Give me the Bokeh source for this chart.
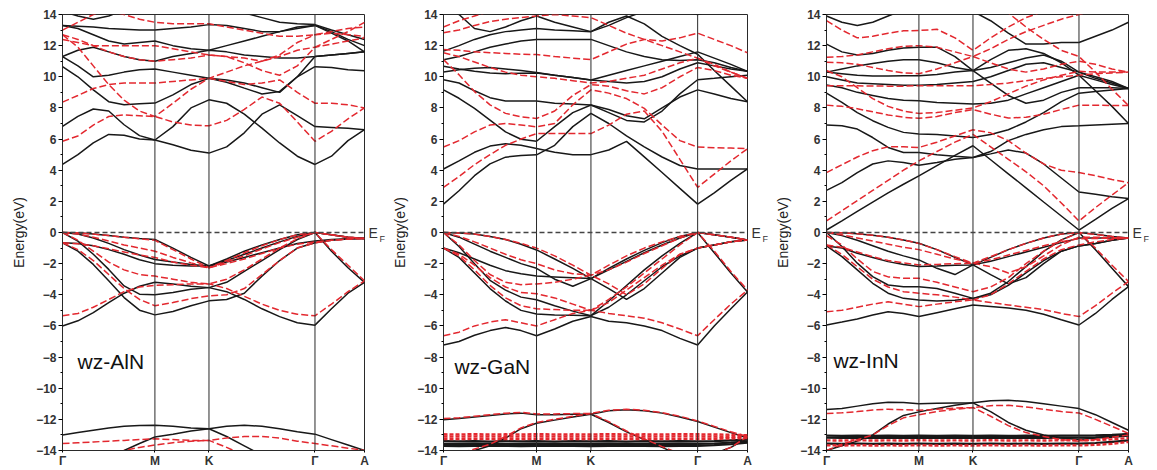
from bokeh.plotting import figure
from bokeh.layouts import row
from bokeh.models import Range1d, FixedTicker, Span, Label, LinearAxis
from bokeh.embed import file_html
from bokeh.resources import INLINE

# ---------------- k-path ----------------
K_LABELS = ["Γ", "M", "K", "Γ", "A"]
K_POS = [0, 306, 485, 836, 1000]
SUBDIV = [6, 3, 6, 3]   # samples per segment Γ-M, M-K, K-Γ, Γ-A

# ---------------- wz-AlN (energies in eV at the 19 path samples) ----------------
aln_cb_black = [
    [4.37, 5.0, 5.75, 6.3, 6.25, 6.0, 5.94, 5.64, 5.28, 5.1, 5.5, 6.4, 7.6, 8.2, 7.5, 6.8, 6.75, 6.7, 6.6],
    [6.82, 7.46, 7.93, 7.8, 6.92, 6.22, 5.94, 6.8, 8.0, 8.52, 8.3, 7.6, 6.7, 5.75, 4.9, 4.37, 4.9, 5.9, 6.6],
    [10.65, 10.0, 9.16, 8.4, 8.2, 8.27, 8.31, 8.84, 9.5, 9.9, 9.65, 9.27, 8.9, 9.06, 10.0, 10.65, 10.6, 10.45, 10.38],
    [11.3, 10.7, 10.0, 10.1, 10.3, 10.45, 10.5, 10.3, 10.1, 9.9, 9.8, 9.6, 9.3, 9.0, 10.0, 11.3, 11.4, 11.5, 11.6],
    [11.3, 11.7, 11.9, 11.6, 11.3, 11.1, 11.0, 11.3, 11.5, 11.7, 11.6, 11.4, 11.3, 11.2, 11.2, 11.3, 11.4, 11.5, 11.6],
    [13.3, 13.1, 12.7, 12.3, 12.1, 12.2, 12.3, 12.0, 11.8, 11.7, 12.0, 12.3, 12.6, 12.9, 13.2, 13.3, 12.9, 12.4, 12.0],
    [13.3, 13.25, 13.2, 13.1, 13.05, 13.0, 13.0, 13.1, 13.2, 13.35, 13.3, 13.1, 12.9, 12.9, 13.1, 13.3, 12.8, 12.3, 11.6],
    [14.2, 13.9, 13.7, 13.9, 14.3, 14.6, 14.8, 14.8, 14.6, 14.3, 14.2, 14.1, 13.8, 13.5, 13.4, 13.35, 13.0, 12.7, 12.4],
]
aln_cb_red = [
    [5.86, 6.2, 6.9, 7.45, 7.55, 7.5, 7.45, 7.1, 6.9, 6.85, 7.2, 7.9, 8.7, 8.3, 7.1, 5.86, 6.5, 7.3, 8.0],
    [8.37, 8.8, 9.25, 9.5, 9.6, 9.6, 9.6, 9.7, 9.8, 9.9, 9.7, 9.5, 9.6, 9.8, 9.0, 8.3, 8.3, 8.2, 8.0],
    [12.7, 11.9, 10.7, 9.5, 8.5, 7.8, 7.45, 8.3, 9.2, 9.9, 10.3, 10.7, 11.0, 11.3, 11.7, 11.9, 12.1, 12.3, 12.5],
    [12.4, 12.2, 12.0, 12.0, 12.0, 12.0, 12.0, 11.8, 11.6, 11.4, 11.3, 11.2, 11.0, 11.4, 12.2, 12.7, 12.8, 12.7, 12.6],
    [13.0, 13.5, 14.0, 14.2, 14.0, 13.7, 13.5, 13.4, 13.4, 13.4, 13.2, 13.0, 12.8, 12.6, 12.6, 12.7, 12.9, 13.1, 13.2],
    [12.7, 12.4, 12.0, 11.6, 11.3, 11.1, 11.0, 11.1, 11.2, 11.4, 11.3, 10.9, 10.4, 10.1, 10.7, 11.9, 12.4, 12.9, 13.5],
]
aln_vb_black = [
    [0, -0.02, -0.1, -0.2, -0.3, -0.38, -0.45, -1.0, -1.6, -2.15, -1.7, -1.2, -0.8, -0.45, -0.15, 0, -0.15, -0.3, -0.38],
    [0, -0.1, -0.35, -0.7, -1.1, -1.45, -1.73, -1.9, -2.05, -2.15, -1.8, -1.4, -1.0, -0.6, -0.25, 0, -0.15, -0.3, -0.38],
    [0, -0.55, -1.4, -2.37, -3.43, -3.96, -4.0, -3.86, -3.64, -3.54, -3.2, -2.5, -1.8, -1.1, -0.45, 0, -1.2, -2.26, -3.2],
    [-0.66, -0.7, -0.85, -1.1, -1.4, -1.75, -2.0, -2.1, -2.15, -2.15, -1.9, -1.6, -1.3, -1.0, -0.7, -0.55, -0.45, -0.4, -0.38],
    [-0.66, -1.2, -2.05, -3.1, -4.18, -4.99, -5.29, -5.07, -4.7, -4.39, -4.3, -3.9, -2.8, -1.8, -1.0, -0.66, -0.5, -0.42, -0.38],
    [-6.0, -5.67, -5.14, -4.5, -3.9, -3.45, -3.2, -3.3, -3.45, -3.54, -3.8, -4.3, -4.9, -5.4, -5.8, -5.95, -4.9, -3.9, -3.2],
]
aln_vb_red = [
    [0, -0.02, -0.1, -0.2, -0.3, -0.4, -0.5, -1.1, -1.7, -2.26, -1.8, -1.3, -0.85, -0.45, -0.15, 0, -0.15, -0.3, -0.38],
    [0, -0.1, -0.3, -0.55, -0.8, -1.0, -1.2, -1.6, -1.95, -2.26, -1.9, -1.5, -1.05, -0.65, -0.3, 0, -0.15, -0.3, -0.38],
    [0, -0.5, -1.2, -1.9, -2.4, -2.7, -2.8, -3.0, -3.2, -3.3, -3.0, -2.4, -1.7, -1.0, -0.4, 0, -1.1, -2.1, -3.1],
    [-0.66, -0.72, -0.85, -1.05, -1.25, -1.45, -1.6, -1.9, -2.1, -2.26, -2.0, -1.7, -1.35, -1.0, -0.75, -0.6, -0.5, -0.42, -0.38],
    [-0.66, -1.1, -1.8, -2.7, -3.6, -4.3, -4.7, -4.5, -4.25, -4.07, -4.0, -3.6, -2.7, -1.8, -1.0, -0.66, -0.5, -0.42, -0.38],
    [-5.35, -5.2, -4.8, -4.3, -3.8, -3.5, -3.4, -3.35, -3.3, -3.3, -3.6, -4.1, -4.6, -5.0, -5.25, -5.35, -4.6, -3.8, -3.1],
]
aln_core_black = [
    [-13.0, -12.85, -12.7, -12.55, -12.45, -12.4, -12.38, -12.45, -12.55, -12.6, -12.45, -12.38, -12.45, -12.6, -12.8, -12.95, -13.3, -13.65, -14.0],
    [-15.5, -15.2, -14.8, -14.4, -14.0, -13.55, -13.13, -12.95, -12.75, -12.6, -13.1, -13.7, -14.3, -14.8, -15.2, -15.5, -15.5, -15.3, -14.9],
]
aln_core_red = [
    [-13.55, -13.5, -13.45, -13.4, -13.35, -13.3, -13.25, -13.3, -13.35, -13.35, -13.2, -13.1, -13.1, -13.2, -13.4, -13.55, -13.7, -13.85, -14.0],
    [-15.5, -15.0, -14.6, -14.3, -14.0, -13.8, -13.65, -13.5, -13.4, -13.35, -13.8, -14.3, -14.8, -15.2, -15.5, -15.5, -15.5, -15.5, -15.5],
]
aln_d_black = []
aln_d_red = []

# ---------------- wz-GaN ----------------
gan_cb_black = [
    [1.82, 2.68, 3.65, 4.41, 4.84, 4.95, 4.99, 5.6, 6.8, 7.65, 7.0, 6.2, 5.5, 4.85, 4.3, 4.08, 4.08, 4.08, 4.08],
    [4.08, 4.6, 5.15, 5.55, 5.7, 5.6, 5.4, 5.15, 5.0, 5.0, 5.3, 5.85, 4.86, 3.85, 2.83, 1.82, 2.55, 3.35, 4.08],
    [9.16, 8.62, 7.97, 7.22, 6.46, 5.99, 5.86, 6.8, 7.7, 8.19, 7.9, 7.5, 7.3, 8.0, 8.7, 9.16, 8.9, 8.6, 8.4],
    [9.81, 9.6, 9.1, 8.66, 8.45, 8.45, 8.45, 8.3, 8.25, 8.19, 7.7, 7.2, 7.1, 7.8, 8.9, 9.81, 9.9, 10.0, 10.1],
    [10.3, 10.45, 10.55, 10.6, 10.5, 10.4, 10.28, 10.1, 9.95, 9.8, 9.7, 9.6, 9.7, 10.0, 10.5, 10.9, 10.7, 10.5, 10.35],
    [10.67, 10.5, 10.35, 10.25, 10.2, 10.22, 10.24, 10.1, 9.95, 9.8, 10.1, 10.4, 10.7, 11.0, 11.3, 11.6, 11.2, 10.8, 10.35],
    [11.1, 11.3, 11.6, 11.9, 12.1, 12.3, 12.4, 12.4, 12.4, 12.4, 12.0, 11.6, 11.3, 11.1, 11.05, 11.1, 10.9, 10.6, 10.35],
    [11.65, 12.0, 12.4, 12.7, 12.9, 13.0, 13.1, 13.0, 12.95, 12.9, 13.5, 13.9, 13.4, 12.6, 12.0, 11.45, 10.4, 9.4, 8.4],
    [14.5, 14.0, 13.1, 12.9, 13.2, 13.6, 13.9, 13.5, 13.2, 12.9, 13.3, 13.8, 14.2, 14.4, 14.2, 14.0, 14.3, 14.6, 15.0],
]
gan_cb_red = [
    [2.9, 3.6, 4.36, 5.0, 5.6, 6.0, 6.35, 6.35, 6.35, 6.35, 6.9, 7.6, 7.8, 6.5, 4.7, 2.9, 3.75, 4.6, 5.38],
    [5.49, 5.9, 6.46, 6.9, 7.0, 6.9, 6.79, 7.0, 8.2, 9.16, 8.95, 8.6, 7.97, 6.9, 5.9, 5.49, 5.45, 5.42, 5.38],
    [11.1, 10.13, 9.05, 8.2, 7.65, 7.43, 7.32, 7.8, 8.8, 9.5, 9.4, 9.1, 8.9, 9.3, 10.0, 10.6, 10.4, 10.1, 9.9],
    [11.54, 11.3, 10.95, 10.6, 10.3, 10.1, 10.0, 9.9, 9.75, 9.6, 9.7, 9.9, 10.1, 10.5, 10.9, 11.2, 10.8, 10.3, 9.9],
    [11.75, 11.7, 11.6, 11.55, 11.5, 11.45, 11.43, 11.3, 11.2, 11.1, 11.6, 12.1, 12.4, 12.3, 12.5, 12.8, 12.4, 12.0, 11.54],
    [12.83, 13.0, 13.3, 13.55, 13.7, 13.8, 13.9, 14.0, 13.9, 13.8, 13.3, 12.8, 12.4, 12.0, 11.6, 11.2, 10.7, 10.3, 9.9],
    [13.2, 13.6, 13.9, 14.2, 14.5, 14.6, 14.6, 14.5, 14.3, 14.1, 14.3, 14.6, 14.8, 15.0, 15.0, 15.0, 15.0, 15.0, 15.0],
]
gan_vb_black = [
    [0, -0.03, -0.1, -0.25, -0.45, -0.75, -1.12, -1.7, -2.3, -2.96, -2.3, -1.7, -1.15, -0.65, -0.25, 0, -0.15, -0.3, -0.48],
    [0, -0.3, -0.75, -1.2, -1.6, -2.0, -2.3, -3.0, -3.45, -2.96, -3.6, -4.3, -3.6, -2.6, -1.6, -1.0, -0.8, -0.6, -0.48],
    [0, -0.9, -2.0, -3.07, -3.7, -4.15, -4.32, -4.7, -5.05, -5.34, -4.4, -3.4, -2.4, -1.5, -0.7, 0, -1.3, -2.6, -3.82],
    [-1.0, -1.3, -1.7, -2.1, -2.45, -2.65, -2.8, -2.85, -2.9, -2.96, -2.4, -1.85, -1.3, -0.8, -0.35, 0, -0.15, -0.3, -0.48],
    [-1.0, -1.6, -2.6, -3.6, -4.4, -5.0, -5.23, -5.3, -5.32, -5.34, -4.8, -4.0, -3.1, -2.2, -1.5, -1.0, -0.8, -0.6, -0.48],
    [-7.22, -7.0, -6.6, -6.3, -6.1, -6.3, -6.63, -6.2, -5.7, -5.4, -5.7, -5.8, -6.0, -6.3, -6.8, -7.22, -6.0, -4.9, -3.82],
]
gan_vb_red = [
    [0, -0.03, -0.1, -0.25, -0.45, -0.7, -1.0, -1.5, -2.1, -2.74, -2.1, -1.5, -1.0, -0.6, -0.25, 0, -0.15, -0.3, -0.48],
    [0, -0.25, -0.6, -1.0, -1.4, -1.75, -2.0, -2.4, -2.65, -2.74, -2.4, -1.9, -1.35, -0.85, -0.35, 0, -0.15, -0.3, -0.48],
    [0, -0.8, -1.8, -2.7, -3.2, -3.35, -3.3, -3.2, -3.0, -2.74, -3.3, -4.0, -3.3, -2.3, -1.4, -1.0, -0.8, -0.6, -0.48],
    [-1.0, -1.4, -2.1, -2.9, -3.5, -3.85, -3.93, -4.2, -4.6, -5.0, -4.3, -3.5, -2.6, -1.7, -0.8, 0, -1.2, -2.5, -3.7],
    [-1.0, -1.5, -2.4, -3.4, -4.2, -4.7, -4.9, -4.95, -5.0, -5.0, -4.5, -3.7, -2.9, -2.1, -1.4, -1.0, -0.8, -0.6, -0.48],
    [-6.63, -6.4, -6.0, -5.75, -5.6, -5.8, -6.0, -5.6, -5.2, -5.0, -5.2, -5.35, -5.5, -5.8, -6.2, -6.63, -5.6, -4.6, -3.7],
]
gan_core_black = [
    [-12.03, -11.95, -11.85, -11.75, -11.65, -11.6, -11.7, -11.7, -11.68, -11.67, -11.45, -11.38, -11.45, -11.6, -11.85, -12.14, -12.5, -12.85, -13.2],
    [-14.5, -14.3, -14.0, -13.7, -13.2, -12.6, -12.25, -12.05, -11.85, -11.67, -12.2, -12.8, -13.3, -13.8, -14.3, -14.5, -14.2, -13.8, -13.2],
]
gan_core_red = [
    [-11.95, -11.9, -11.8, -11.7, -11.6, -11.55, -11.65, -11.65, -11.63, -11.62, -11.42, -11.35, -11.42, -11.57, -11.8, -12.1, -12.45, -12.8, -13.1],
    [-14.5, -14.2, -13.9, -13.6, -13.1, -12.55, -12.2, -12.0, -11.8, -11.62, -12.15, -12.75, -13.25, -13.75, -14.2, -14.5, -14.2, -13.8, -13.1],
]
gan_d_black = [
    [-13.4, -13.42, -13.4, -13.43, -13.4, -13.42, -13.4, -13.43, -13.4, -13.42, -13.4, -13.43, -13.4, -13.42, -13.4, -13.42, -13.4, -13.35, -13.3],
    [-13.57, -13.58, -13.56, -13.58, -13.57, -13.58, -13.56, -13.58, -13.57, -13.58, -13.56, -13.58, -13.57, -13.58, -13.56, -13.57, -13.55, -13.5, -13.42],
    [-13.7, -13.72, -13.7, -13.71, -13.7, -13.72, -13.7, -13.71, -13.7, -13.72, -13.7, -13.71, -13.7, -13.72, -13.7, -13.7, -13.66, -13.6, -13.5],
]
gan_d_red = [
    [-12.96, -12.97, -12.95, -12.97, -12.96, -12.97, -12.95, -12.97, -12.96, -12.97, -12.95, -12.97, -12.96, -12.97, -12.95, -12.96, -12.97, -12.99, -13.02],
    [-13.1, -13.11, -13.09, -13.11, -13.1, -13.11, -13.09, -13.11, -13.1, -13.11, -13.09, -13.11, -13.1, -13.11, -13.09, -13.1, -13.11, -13.12, -13.14],
    [-13.26, -13.27, -13.25, -13.27, -13.26, -13.27, -13.25, -13.27, -13.26, -13.27, -13.25, -13.27, -13.26, -13.27, -13.25, -13.26, -13.25, -13.23, -13.2],
]

# ---------------- wz-InN ----------------
inn_cb_black = [
    [0.16, 0.75, 1.35, 1.95, 2.55, 3.1, 3.64, 4.3, 4.95, 5.57, 4.67, 3.77, 2.87, 1.96, 1.06, 0.16, 0.85, 1.55, 2.18],
    [2.71, 3.2, 3.85, 4.4, 4.6, 4.5, 4.32, 4.5, 4.7, 4.82, 5.05, 5.3, 5.1, 4.4, 3.5, 2.6, 2.45, 2.3, 2.18],
    [6.9, 6.85, 6.64, 6.1, 5.46, 5.14, 5.14, 5.0, 4.9, 4.82, 5.2, 5.9, 6.3, 6.6, 6.8, 6.85, 6.9, 6.95, 7.0],
    [8.95, 8.36, 7.7, 7.18, 6.75, 6.43, 6.32, 6.3, 6.2, 6.1, 6.3, 6.6, 7.1, 7.7, 8.4, 8.95, 9.05, 9.15, 9.25],
    [9.47, 9.3, 9.0, 8.8, 8.6, 8.5, 8.46, 8.35, 8.3, 8.25, 8.3, 8.5, 8.9, 9.3, 9.7, 10.1, 9.8, 9.5, 9.25],
    [10.3, 10.2, 10.1, 10.05, 10.05, 10.06, 10.07, 10.15, 10.3, 10.4, 9.6, 8.8, 8.3, 8.5, 9.0, 9.3, 9.3, 9.3, 9.25],
    [10.0, 9.8, 9.6, 9.55, 9.5, 9.45, 9.45, 9.5, 9.6, 9.7, 10.0, 10.4, 10.8, 10.9, 10.6, 10.3, 9.9, 9.6, 9.25],
    [12.1, 11.6, 11.4, 11.5, 11.7, 11.85, 11.9, 11.9, 11.3, 10.4, 11.1, 11.7, 11.8, 11.5, 10.9, 10.1, 9.1, 8.1, 7.0],
    [10.3, 10.5, 10.7, 10.85, 11.0, 11.1, 11.1, 10.9, 10.6, 10.4, 10.6, 10.9, 11.2, 11.4, 11.0, 10.3, 10.0, 9.7, 9.25],
    [13.9, 13.5, 13.3, 13.5, 13.9, 14.3, 14.6, 14.6, 14.4, 14.2, 13.6, 12.8, 12.1, 12.1, 12.2, 12.2, 12.6, 13.0, 13.5],
]
inn_cb_red = [
    [0.74, 1.4, 2.05, 2.7, 3.35, 4.0, 4.6, 5.2, 5.8, 6.3, 5.5, 4.7, 3.9, 3.0, 1.9, 0.74, 1.6, 2.4, 3.2],
    [3.85, 4.35, 4.85, 5.25, 5.5, 5.5, 5.46, 5.8, 6.2, 6.6, 6.4, 5.9, 5.1, 4.4, 4.0, 3.85, 3.65, 3.4, 3.2],
    [8.18, 8.1, 7.95, 7.75, 7.55, 7.4, 7.33, 7.45, 7.7, 7.9, 7.6, 7.35, 7.4, 7.6, 7.9, 8.18, 8.17, 8.16, 8.15],
    [9.43, 9.43, 9.42, 9.41, 9.4, 9.4, 9.43, 9.43, 9.43, 9.43, 9.5, 9.6, 9.75, 9.9, 10.0, 10.1, 10.2, 10.25, 10.3],
    [10.4, 10.0, 9.3, 8.6, 8.1, 7.8, 7.65, 7.7, 7.85, 8.0, 8.4, 8.9, 9.4, 9.8, 10.1, 10.35, 10.3, 10.3, 10.3],
    [10.93, 10.9, 10.8, 10.6, 10.4, 10.25, 10.2, 10.5, 10.9, 11.3, 10.9, 10.5, 10.3, 10.5, 10.8, 11.0, 10.8, 10.5, 10.3],
    [11.25, 11.3, 11.4, 11.6, 11.8, 11.95, 12.0, 11.9, 11.6, 11.3, 11.8, 12.4, 12.9, 13.3, 13.7, 14.0, 14.3, 14.6, 15.0],
    [13.6, 13.0, 12.5, 12.6, 12.8, 12.95, 12.97, 13.05, 12.5, 11.7, 12.5, 13.2, 13.8, 14.2, 14.6, 15.0, 15.0, 15.0, 15.0],
    [15.0, 15.0, 15.0, 15.0, 15.0, 15.0, 15.0, 15.0, 15.0, 15.0, 14.7, 14.1, 13.2, 12.4, 11.7, 11.3, 10.3, 9.2, 8.15],
]
inn_vb_black = [
    [0, -0.02, -0.08, -0.18, -0.3, -0.48, -0.69, -1.1, -1.6, -2.08, -1.6, -1.1, -0.7, -0.35, -0.1, 0, -0.12, -0.25, -0.36],
    [0, -0.2, -0.5, -0.85, -1.2, -1.5, -1.76, -2.3, -2.7, -2.08, -2.7, -3.3, -2.9, -2.0, -1.2, -0.86, -0.7, -0.5, -0.36],
    [0, -0.9, -1.97, -2.83, -3.37, -3.48, -3.48, -3.6, -3.9, -4.23, -3.9, -3.15, -2.19, -1.22, -0.47, 0, -1.1, -2.3, -3.48],
    [-0.86, -1.0, -1.33, -1.6, -1.87, -2.05, -2.19, -2.15, -2.1, -2.08, -1.85, -1.55, -1.25, -0.95, -0.65, -0.36, -0.36, -0.36, -0.36],
    [-0.86, -1.55, -2.4, -3.26, -3.9, -4.23, -4.33, -4.4, -4.35, -4.23, -4.0, -3.4, -2.6, -1.8, -1.2, -0.86, -0.7, -0.5, -0.36],
    [-5.94, -5.75, -5.55, -5.3, -5.09, -5.2, -5.4, -5.15, -4.9, -4.66, -4.75, -4.85, -5.0, -5.25, -5.6, -5.94, -5.2, -4.3, -3.48],
]
inn_vb_red = [
    [0, -0.02, -0.08, -0.18, -0.3, -0.48, -0.7, -1.1, -1.55, -1.97, -1.55, -1.1, -0.7, -0.35, -0.1, 0, -0.12, -0.25, -0.36],
    [0, -0.15, -0.35, -0.55, -0.75, -0.95, -1.1, -1.4, -1.7, -1.97, -2.2, -2.6, -2.2, -1.5, -0.8, -0.3, -0.3, -0.33, -0.36],
    [-0.2, -0.8, -1.7, -2.5, -2.85, -2.94, -2.94, -3.2, -3.5, -3.8, -3.5, -2.9, -2.0, -1.2, -0.5, 0, -1.0, -2.1, -3.15],
    [-0.8, -0.95, -1.25, -1.55, -1.8, -1.95, -2.08, -2.05, -2.0, -1.97, -1.75, -1.45, -1.15, -0.85, -0.6, -0.4, -0.38, -0.37, -0.36],
    [-0.8, -1.4, -2.2, -3.0, -3.5, -3.8, -3.9, -4.0, -4.15, -4.33, -4.0, -3.3, -2.5, -1.7, -1.1, -0.8, -0.6, -0.45, -0.36],
    [-5.09, -5.0, -4.8, -4.6, -4.45, -4.6, -4.76, -4.6, -4.45, -4.33, -4.5, -4.65, -4.8, -4.95, -5.2, -5.4, -4.7, -3.9, -3.15],
]
inn_core_black = [
    [-11.37, -11.3, -11.15, -11.0, -10.9, -10.92, -10.99, -10.97, -10.95, -10.94, -10.8, -10.77, -10.85, -11.0, -11.15, -11.31, -11.7, -12.2, -12.7],
    [-14.0, -13.7, -13.4, -13.0, -12.3, -11.75, -11.52, -11.3, -11.1, -10.94, -11.5, -12.2, -12.7, -13.0, -13.2, -13.3, -13.2, -13.1, -12.9],
]
inn_core_red = [
    [-11.63, -11.58, -11.5, -11.4, -11.35, -11.38, -11.42, -11.35, -11.28, -11.24, -11.12, -11.1, -11.2, -11.35, -11.5, -11.59, -12.0, -12.45, -12.9],
    [-14.0, -13.6, -13.3, -13.0, -12.4, -11.9, -11.7, -11.5, -11.35, -11.24, -11.8, -12.4, -12.85, -13.1, -13.3, -13.4, -13.3, -13.15, -13.0],
]
inn_d_black = [
    [-13.05, -13.06, -13.04, -13.06, -13.05, -13.06, -13.04, -13.06, -13.05, -13.06, -13.04, -13.06, -13.05, -13.06, -13.04, -13.05, -13.03, -13.0, -12.95],
    [-13.18, -13.19, -13.17, -13.19, -13.18, -13.19, -13.17, -13.19, -13.18, -13.19, -13.17, -13.19, -13.18, -13.19, -13.17, -13.18, -13.16, -13.12, -13.05],
    [-13.56, -13.57, -13.55, -13.57, -13.56, -13.57, -13.55, -13.57, -13.56, -13.57, -13.55, -13.57, -13.56, -13.57, -13.55, -13.56, -13.52, -13.45, -13.35],
]
inn_d_red = [
    [-13.35, -13.36, -13.34, -13.36, -13.35, -13.36, -13.34, -13.36, -13.35, -13.36, -13.34, -13.36, -13.35, -13.36, -13.34, -13.35, -13.33, -13.28, -13.2],
    [-13.67, -13.68, -13.66, -13.68, -13.67, -13.68, -13.66, -13.68, -13.67, -13.68, -13.66, -13.68, -13.67, -13.68, -13.66, -13.67, -13.64, -13.57, -13.45],
]

PANEL_NAMES = ["wz-AlN", "wz-GaN", "wz-InN"]

# x positions of the path samples (subdivisions of each high-symmetry segment)
KX = []
for (a, b), n in zip(zip(K_POS[:-1], K_POS[1:]), SUBDIV):
    KX += [a + (b - a) * i / n for i in range(n)]
KX.append(K_POS[-1])

FONT = "Liberation Sans"
BLACK = "#181818"
RED = "#e3282f"
H = 470


def make_panel(name, blacks, reds, d_black, d_red, width, bl, br, name_x, name_y, name_size):
    p = figure(width=width, height=H, x_range=Range1d(K_POS[0], K_POS[-1]), y_range=Range1d(-14, 14),
               output_backend="svg", toolbar_location=None,
               min_border_left=bl, min_border_right=br, min_border_top=14, min_border_bottom=10)
    p.xgrid.visible = False
    p.ygrid.visible = False
    p.outline_line_color = "#2a2a2a"
    p.outline_line_width = 1
    p.background_fill_color = "white"
    p.border_fill_color = "white"

    for bands in blacks:
        p.multi_line([KX] * len(bands), bands, line_color=BLACK, line_width=1.5)
    if d_black:
        p.multi_line([KX] * len(d_black), d_black, line_color=BLACK, line_width=2.2)
    for bands in reds:
        p.multi_line([KX] * len(bands), bands, line_color=RED, line_width=1.5, line_dash="7 3")
    if d_red:
        p.multi_line([KX] * len(d_red), d_red, line_color=RED, line_width=2.4, line_dash="4 2")

    for x in K_POS[1:-1]:
        p.add_layout(Span(location=x, dimension="height", line_color="#2a2a2a", line_width=1))
    p.add_layout(Span(location=0, dimension="width", line_color="#444444", line_width=1.5, line_dash="5 3"))

    # x axis
    p.xaxis.ticker = FixedTicker(ticks=K_POS)
    p.xaxis.major_label_overrides = {k: lab for k, lab in zip(K_POS, K_LABELS)}
    p.xaxis.major_tick_out = 2
    p.xaxis.major_tick_in = 0
    p.xaxis.minor_tick_line_color = None
    p.xaxis.major_label_standoff = 1
    p.xaxis.major_label_text_font = FONT
    p.xaxis.major_label_text_font_size = "12px"
    p.xaxis.major_label_text_font_style = "bold"
    p.xaxis.major_label_text_color = "#333333"
    p.xaxis.axis_line_color = "#2a2a2a"

    # y axis
    p.yaxis.ticker = FixedTicker(ticks=list(range(-14, 15, 2)), minor_ticks=list(range(-13, 14, 2)))
    p.yaxis.major_tick_out = 4
    p.yaxis.major_tick_in = 0
    p.yaxis.minor_tick_out = 2
    p.yaxis.minor_tick_in = 0
    p.yaxis.major_label_standoff = 2
    p.yaxis.major_label_text_font = FONT
    p.yaxis.major_label_text_font_size = "12px"
    p.yaxis.major_label_text_font_style = "bold"
    p.yaxis.major_label_text_color = "#333333"
    p.yaxis.axis_line_color = "#2a2a2a"
    p.yaxis.axis_label = "Energy(eV)"
    p.yaxis.axis_label_text_font = FONT
    p.yaxis.axis_label_text_font_size = "14px"
    p.yaxis.axis_label_text_font_style = "normal"
    p.yaxis.axis_label_text_color = "#222222"
    p.yaxis.axis_label_standoff = 6

    # E_F marker on the right: "E" at the Fermi level, subscript "F" slightly lower
    p.extra_y_ranges = {"fsub": Range1d(-13.6, 14.4)}
    ax_e = LinearAxis(ticker=FixedTicker(ticks=[0]), major_label_overrides={0: "E"},
                      axis_line_color=None, major_tick_line_color=None, minor_tick_line_color=None,
                      major_tick_out=0, major_tick_in=0, major_label_standoff=4,
                      major_label_text_font=FONT, major_label_text_font_size="14px",
                      major_label_text_color="#333333")
    ax_f = LinearAxis(y_range_name="fsub", ticker=FixedTicker(ticks=[0]), major_label_overrides={0: "F"},
                      axis_line_color=None, major_tick_line_color=None, minor_tick_line_color=None,
                      major_tick_out=0, major_tick_in=0, major_label_standoff=-1,
                      major_label_text_font=FONT, major_label_text_font_size="9px",
                      major_label_text_color="#333333")
    p.add_layout(ax_e, "right")
    p.add_layout(ax_f, "right")

    p.add_layout(Label(x=name_x, y=name_y, text=name, text_font=FONT, text_font_size=name_size,
                       text_baseline="middle", text_color="#111111"))
    return p


p1 = make_panel(PANEL_NAMES[0], [aln_cb_black, aln_vb_black, aln_core_black],
                [aln_cb_red, aln_vb_red, aln_core_red], aln_d_black, aln_d_red,
                388, 62, 24, 50, -8.3, "21px")
p2 = make_panel(PANEL_NAMES[1], [gan_cb_black, gan_vb_black, gan_core_black],
                [gan_cb_red, gan_vb_red, gan_core_red], gan_d_black, gan_d_red,
                383, 55, 24, 36, -8.6, "21px")
p3 = make_panel(PANEL_NAMES[2], [inn_cb_black, inn_vb_black, inn_core_black],
                [inn_cb_red, inn_vb_red, inn_core_red], inn_d_black, inn_d_red,
                381, 55, 24, 23, -8.2, "21px")

layout = row(p1, p2, p3)
open("out.html", "w").write(file_html(layout, INLINE))
